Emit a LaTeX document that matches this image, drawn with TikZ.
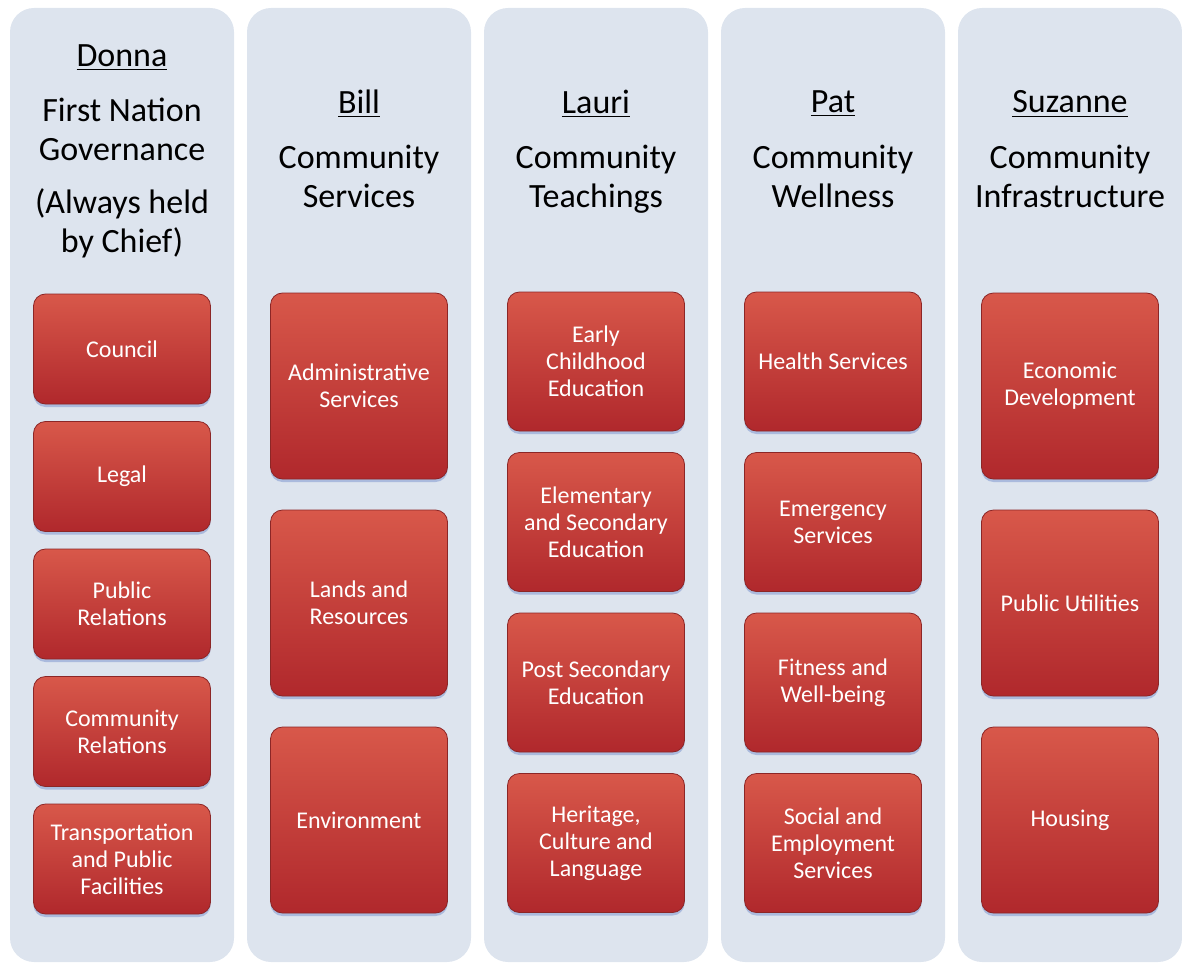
\documentclass[tikz,border=0pt]{standalone}
\usepackage{fontspec}
\setmainfont{Carlito}
\usetikzlibrary{shadows}
\definecolor{colbg}{RGB}{221,228,238}
\definecolor{unittop}{RGB}{216,88,74}
\definecolor{unitbot}{RGB}{176,40,44}
\definecolor{unitedge}{RGB}{140,38,38}
\definecolor{unitshade}{RGB}{120,145,205}
\tikzset{
  column/.style={fill=colbg, rounded corners=12pt},
  head/.style={align=center, font=\fontsize{17}{19.5}\selectfont},
  unit/.style={rounded corners=6pt, top color=unittop, bottom color=unitbot,
    draw=unitedge, line width=.4pt, text=white, align=center,
    minimum width=88.5pt, font=\fontsize{12}{13.5}\selectfont,
    drop shadow={shadow xshift=0pt, shadow yshift=-1.5pt, fill=unitshade, opacity=.5}},
}
\begin{document}
\begin{tikzpicture}[x=.5pt,y=-.5pt]
  \useasboundingbox (0,0) rectangle (1182,968);
  \def\w{112} % half width of a column

  % columns
  \foreach \cx in {122,359,596,833,1070}
    \fill[column] (\cx-\w,8) rectangle (\cx+\w,962);

  % heads
  \node[head] (donna) at (122,58) {\underline{Donna}};
  \node[head] (donnarole) at (122,179.5) {\strut First Nation\\Governance\\[7pt](Always held\\by Chief)\strut};
  \node[head] (bill) at (359,104) {\underline{Bill}};
  \node[head] (billrole) at (359,180) {\strut Community\\Services\strut};
  \node[head] (lauri) at (596,104) {\underline{Lauri}};
  \node[head] (laurirole) at (596,180) {\strut Community\\Teachings\strut};
  \node[head] (pat) at (833,104) {\underline{Pat}};
  \node[head] (patrole) at (833,180) {\strut Community\\Wellness\strut};
  \node[head] (suzanne) at (1070,104) {\underline{Suzanne}};
  \node[head] (suzannerole) at (1070,180) {\strut Community\\Infrastructure\strut};

  % units
  \foreach \t [count=\i] in {Council, Legal, Public\\Relations, Community\\Relations,
      Transportation\\and Public\\Facilities}
    \node[unit, minimum height=55pt] (donna\i) at (122,349+127.5*\i-127.5) {\t};
  \foreach \t [count=\i] in {Administrative\\Services, Lands and\\Resources, Environment}
    \node[unit, minimum height=93pt] (bill\i) at (359,386+217*\i-217) {\t};
  \foreach \t [count=\i] in {Early\\Childhood\\Education, Elementary\\and Secondary\\Education,
      Post Secondary\\Education, {Heritage,\\Culture and\\Language}}
    \node[unit, minimum height=69.5pt] (lauri\i) at (596,361.5+160.5*\i-160.5) {\t};
  \foreach \t [count=\i] in {Health Services, Emergency\\Services, Fitness and\\Well-being,
      Social and\\Employment\\Services}
    \node[unit, minimum height=69.5pt] (pat\i) at (833,361.5+160.5*\i-160.5) {\t};
  \foreach \t [count=\i] in {Economic\\Development, Public Utilities, Housing}
    \node[unit, minimum height=93pt] (suzanne\i) at (1070,386+217*\i-217) {\t};
\end{tikzpicture}
\end{document}
